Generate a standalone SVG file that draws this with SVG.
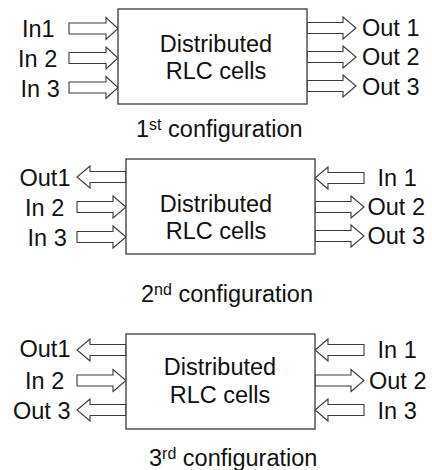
<svg xmlns="http://www.w3.org/2000/svg" width="432" height="470" viewBox="0 0 432 470">
<style>
.box{fill:#fff;stroke:#3a3a3a;stroke-width:1.3}
.arr{fill:#fff;stroke:#3a3a3a;stroke-width:1.1;stroke-linejoin:miter}
text{font-family:"Liberation Sans",Arial,sans-serif;font-size:23.5px;fill:#111}
.c{text-anchor:middle}
.cap{font-size:23.5px}
.sup{font-size:16px}
</style>
<rect width="432" height="470" fill="#fff"/>
<g id="connectors">
<polygon class="arr" points="69,23 106,23 106,17.5 118,28.5 106,39.5 106,34 69,34"/>
<polygon class="arr" points="69,52.5 106,52.5 106,47 118,58 106,69 106,63.5 69,63.5"/>
<polygon class="arr" points="69,82 106,82 106,76.5 118,87.5 106,98.5 106,93 69,93"/>
<line x1="118" y1="87.5" x2="123" y2="87.5" stroke="#3a3a3a" stroke-width="1"/>
<polygon class="arr" points="307,22.5 343,22.5 343,17 356,28 343,39 343,33.5 307,33.5"/>
<polygon class="arr" points="307,51.5 343,51.5 343,46 356,57 343,68 343,62.5 307,62.5"/>
<polygon class="arr" points="307,80.5 343,80.5 343,75 356,86 343,97 343,91.5 307,91.5"/>
<polygon class="arr" points="126,171.5 90,171.5 90,166 77,177 90,188 90,182.5 126,182.5"/>
<polygon class="arr" points="77,201.5 113,201.5 113,196 126,207 113,218 113,212.5 77,212.5"/>
<polygon class="arr" points="77,231.5 113,231.5 113,226 126,237 113,248 113,242.5 77,242.5"/>
<polygon class="arr" points="364,172.5 328,172.5 328,167 315,178 328,189 328,183.5 364,183.5"/>
<polygon class="arr" points="315,201.5 351,201.5 351,196 364,207 351,218 351,212.5 315,212.5"/>
<polygon class="arr" points="315,230.5 351,230.5 351,225 364,236 351,247 351,241.5 315,241.5"/>
<polygon class="arr" points="126,344.5 90,344.5 90,339 77,350 90,361 90,355.5 126,355.5"/>
<polygon class="arr" points="77,375 113,375 113,369.5 126,380.5 113,391.5 113,386 77,386"/>
<polygon class="arr" points="126,404.5 90,404.5 90,399 77,410 90,421 90,415.5 126,415.5"/>
<polygon class="arr" points="364,344.5 328,344.5 328,339 315,350 328,361 328,355.5 364,355.5"/>
<polygon class="arr" points="315,375 351,375 351,369.5 364,380.5 351,391.5 351,386 315,386"/>
<polygon class="arr" points="364,404.5 328,404.5 328,399 315,410 328,421 328,415.5 364,415.5"/>
</g>
<g id="node1">
<rect class="box" x="118" y="9" width="189" height="95"/>
<text class="c" x="216" y="52">Distributed</text>
<text class="c" x="216" y="79">RLC cells</text>
</g>
<g id="labels1">
<text x="22" y="36.5">In1</text>
<text x="18" y="66.5">In 2</text>
<text x="20.5" y="96.5">In 3</text>
<text x="362" y="36">Out 1</text>
<text x="362" y="65">Out 2</text>
<text x="362" y="94.5">Out 3</text>
<text class="cap" x="136" y="136.5">1<tspan class="sup" dy="-7">st</tspan><tspan dy="7"> configuration</tspan></text>
</g>
<g id="node2">
<rect class="box" x="126" y="159" width="189" height="95"/>
<text class="c" x="216" y="211.5">Distributed</text>
<text class="c" x="216" y="238.5">RLC cells</text>
</g>
<g id="labels2">
<text x="19.5" y="186">Out1</text>
<text x="25" y="215.5">In 2</text>
<text x="27.5" y="245.5">In 3</text>
<text x="377.5" y="186">In 1</text>
<text x="367.5" y="215">Out 2</text>
<text x="367.5" y="244">Out 3</text>
<text class="cap" x="141" y="301.5">2<tspan class="sup" dy="-7">nd</tspan><tspan dy="7"> configuration</tspan></text>
</g>
<g id="node3">
<rect class="box" x="126" y="334" width="189" height="95"/>
<text class="c" x="220" y="375">Distributed</text>
<text class="c" x="220" y="402.5">RLC cells</text>
</g>
<g id="labels3">
<text x="19.5" y="357">Out1</text>
<text x="25" y="388.5">In 2</text>
<text x="13" y="418.5">Out 3</text>
<text x="377.5" y="358">In 1</text>
<text x="369" y="388.5">Out 2</text>
<text x="377.5" y="418.5">In 3</text>
<text class="cap" x="149" y="466">3<tspan class="sup" dy="-7">rd</tspan><tspan dy="7"> configuration</tspan></text>
</g>
</svg>
